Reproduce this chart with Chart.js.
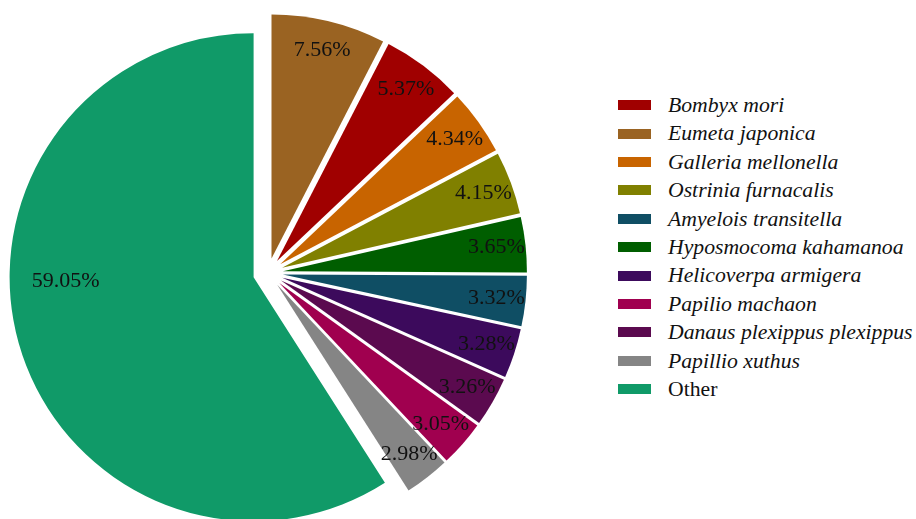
<!DOCTYPE html>
<html lang="en">
<head>
<meta charset="UTF-8">
<title>Species share</title>
<script src="https://cdn.jsdelivr.net/npm/chart.js"></script>
<style>
html, body {
  margin: 0;
  padding: 0;
  background: #ffffff;
  overflow: hidden;
  width: 916px;
  height: 519px;
}
#pie-box {
  position: absolute;
  left: 0;
  top: 0;
  width: 536px;
  height: 546px;
}
#legend {
  position: absolute;
  left: 618px;
  top: 91px;
  font-family: "Liberation Serif", "Times New Roman", serif;
  font-size: 21.7px;
  color: #111;
}
.item {
  height: 28.4px;
  line-height: 28.4px;
  white-space: nowrap;
  display: flex;
  align-items: center;
}
.swatch {
  width: 33px;
  height: 10px;
  margin-right: 17px;
  flex: none;
}
.item span { font-style: italic; }
.item span.plain { font-style: normal; }
</style>
</head>
<body>

<div id="pie-box"><canvas id="pie" width="536" height="546"></canvas></div>
<div id="legend"></div>

<script>
// slices, clockwise from 12 o'clock
const species = [
  "Eumeta japonica", "Bombyx mori", "Galleria mellonella", "Ostrinia furnacalis",
  "Hyposmocoma kahamanoa", "Amyelois transitella", "Helicoverpa armigera",
  "Danaus plexippus plexippus", "Papilio machaon", "Papillio xuthus", "Other"
];
const shares = [7.56, 5.37, 4.34, 4.15, 3.65, 3.32, 3.28, 3.26, 3.05, 2.98, 59.05];
const colors = [
  "#9a6322", "#a00000", "#c86400", "#808000",
  "#005e00", "#0f4e64", "#3c0a5c",
  "#5b0a4f", "#a0004f", "#858585", "#109a68"
];
// order of the legend entries
const legendOrder = [
  "Bombyx mori", "Eumeta japonica", "Galleria mellonella", "Ostrinia furnacalis",
  "Amyelois transitella", "Hyposmocoma kahamanoa", "Helicoverpa armigera",
  "Papilio machaon", "Danaus plexippus plexippus", "Papillio xuthus", "Other"
];

// draws every slice pushed out along its bisector (same radius for all),
// then writes the percentage inside each one
const explodedPie = {
  id: "explodedPie",
  beforeDatasetDraw(chart, args, opts) {
    const ctx = chart.ctx;
    const arcs = chart.getDatasetMeta(args.index).data;
    const ds = chart.data.datasets[args.index];
    const apex = [];
    arcs.forEach((arc, i) => {
      const mid = (arc.startAngle + arc.endAngle) / 2;
      const cx = arc.x + Math.cos(mid) * opts.shift;
      const cy = arc.y + Math.sin(mid) * opts.shift;
      apex.push([cx, cy, mid]);
      ctx.save();
      ctx.beginPath();
      ctx.moveTo(cx, cy);
      ctx.arc(cx, cy, arc.outerRadius, arc.startAngle, arc.endAngle);
      ctx.closePath();
      ctx.fillStyle = arc.options.backgroundColor;
      ctx.fill();
      ctx.restore();
    });

    ctx.save();
    ctx.font = opts.font;
    ctx.fillStyle = "#111";
    ctx.textAlign = "center";
    ctx.textBaseline = "middle";
    arcs.forEach((arc, i) => {
      let [cx, cy, ang] = apex[i];
      let k = opts.labelRadius;
      if (arc.endAngle - arc.startAngle > Math.PI) {
        ang += opts.wideTurn * Math.PI / 180;
        k = opts.wideRadius;
      }
      const r = arc.outerRadius * k;
      ctx.fillText(ds.data[i].toFixed(2) + "%", cx + Math.cos(ang) * r, cy + Math.sin(ang) * r);
    });
    ctx.restore();
    return false;
  }
};

new Chart(document.getElementById("pie"), {
  type: "pie",
  data: {
    labels: species,
    datasets: [{ data: shares, backgroundColor: colors, borderWidth: 0 }]
  },
  options: {
    responsive: false,
    animation: false,
    radius: 244,
    layout: { padding: 0 },
    events: [],
    plugins: {
      legend: { display: false },
      tooltip: { enabled: false },
      explodedPie: {
        shift: 15,
        labelRadius: 0.88,
        wideRadius: 0.77,
        wideTurn: 15,
        font: '22px "Liberation Serif", "Times New Roman", serif'
      }
    }
  },
  plugins: [explodedPie]
});

// legend
const legend = document.getElementById("legend");
legendOrder.forEach(name => {
  const i = species.indexOf(name);
  const row = document.createElement("div");
  row.className = "item";
  const sw = document.createElement("div");
  sw.className = "swatch";
  sw.style.background = colors[i];
  const txt = document.createElement("span");
  txt.textContent = name;
  if (name === "Other") txt.className = "plain";
  row.appendChild(sw);
  row.appendChild(txt);
  legend.appendChild(row);
});
</script>

</body>
</html>
